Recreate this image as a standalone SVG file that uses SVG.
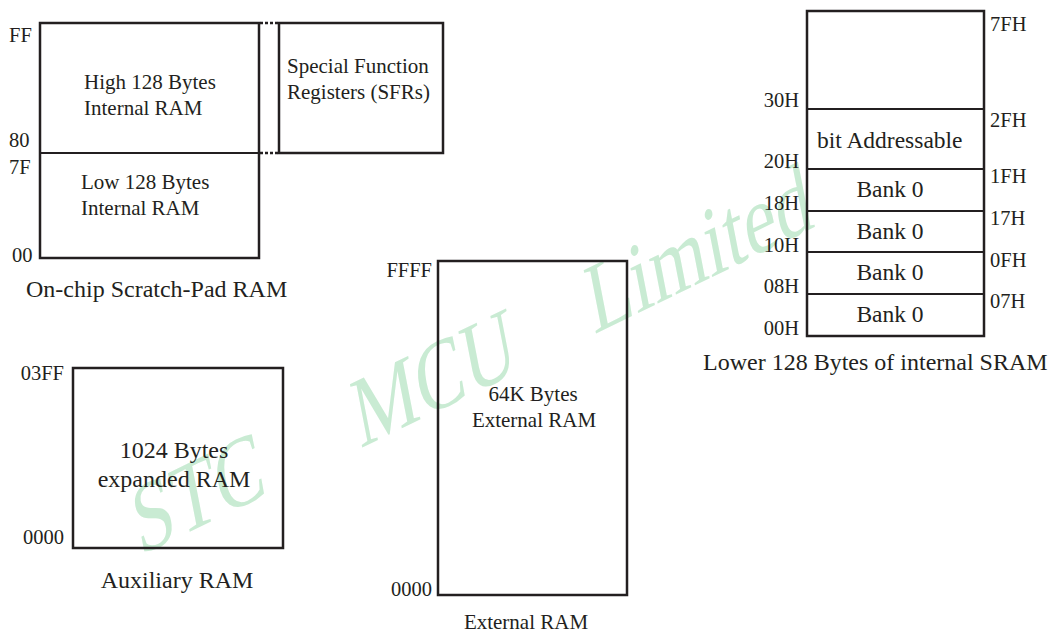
<svg xmlns="http://www.w3.org/2000/svg" width="1048" height="634" viewBox="0 0 1048 634">
<style>
text{font-family:"Liberation Serif","Times New Roman",serif;font-size:20.5px;fill:#231f20}
.t{font-size:21px}
.m{font-size:23.5px}
.l{font-size:24px}
.c{text-anchor:middle}
.e{text-anchor:end}
.box{fill:none;stroke:#231f20;stroke-width:2.5}
.div{stroke:#231f20;stroke-width:2.2}
.dot{stroke:#231f20;stroke-width:2.5;stroke-dasharray:3 2}
.wm{font-family:"Liberation Serif","Times New Roman",serif;font-size:95px;fill:#c9ebd3}
</style>
<rect width="1048" height="634" fill="#ffffff"/>
<g id="watermark" transform="translate(140,556) rotate(-26) skewX(-15) scale(0.82,1)">
<text class="wm" x="0" y="0">STC</text>
<text class="wm" x="299" y="0">MCU</text>
<text class="wm" x="616" y="0">Limited</text>
</g>
<g id="scratchpad">
<rect class="box" x="40" y="23" width="219" height="235"/>
<line class="div" x1="40" y1="153" x2="259" y2="153"/>
<text x="9" y="42">FF</text>
<text x="9" y="147">80</text>
<text x="9" y="174">7F</text>
<text x="12" y="262">00</text>
<text class="t" x="84" y="89">High 128 Bytes</text>
<text class="t" x="84" y="115">Internal RAM</text>
<text class="t" x="81" y="189">Low 128 Bytes</text>
<text class="t" x="81" y="215">Internal RAM</text>
<text class="l" x="26" y="297">On-chip Scratch-Pad RAM</text>
</g>
<g id="sfr">
<rect class="box" x="279" y="23" width="164" height="130"/>
<text class="t" x="287" y="73">Special Function</text>
<text class="t" x="287" y="99">Registers (SFRs)</text>
</g>
<g id="connectors">
<line class="dot" x1="260" y1="23" x2="279" y2="23"/>
<line class="dot" x1="260" y1="153" x2="279" y2="153"/>
</g>
<g id="lower128">
<rect class="box" x="807" y="11" width="177" height="325"/>
<line class="div" x1="807" y1="109" x2="984" y2="109"/>
<line class="div" x1="807" y1="169" x2="984" y2="169"/>
<line class="div" x1="807" y1="211" x2="984" y2="211"/>
<line class="div" x1="807" y1="252" x2="984" y2="252"/>
<line class="div" x1="807" y1="294" x2="984" y2="294"/>
<text class="e" x="799" y="107">30H</text>
<text class="e" x="799" y="168">20H</text>
<text class="e" x="799" y="210">18H</text>
<text class="e" x="799" y="252">10H</text>
<text class="e" x="799" y="293">08H</text>
<text class="e" x="799" y="335">00H</text>
<text x="990" y="31">7FH</text>
<text x="990" y="127">2FH</text>
<text x="990" y="183">1FH</text>
<text x="990" y="225">17H</text>
<text x="990" y="267">0FH</text>
<text x="990" y="308">07H</text>
<text class="m" x="817" y="148">bit Addressable</text>
<text class="m c" x="890" y="197">Bank 0</text>
<text class="m c" x="890" y="239">Bank 0</text>
<text class="m c" x="890" y="280">Bank 0</text>
<text class="m c" x="890" y="322">Bank 0</text>
<text class="l" x="703" y="370">Lower 128 Bytes of internal SRAM</text>
</g>
<g id="auxiliary">
<rect class="box" x="73" y="368" width="210" height="180"/>
<text class="e" x="64" y="380">03FF</text>
<text class="e" x="64" y="544">0000</text>
<text class="l c" x="174" y="458">1024 Bytes</text>
<text class="l c" x="174" y="487">expanded RAM</text>
<text class="l c" x="177" y="588">Auxiliary RAM</text>
</g>
<g id="external">
<rect class="box" x="438" y="261" width="189" height="334"/>
<text class="e" x="432" y="277">FFFF</text>
<text class="e" x="432" y="596">0000</text>
<text class="t c" x="533" y="401">64K Bytes</text>
<text class="t c" x="534" y="427">External RAM</text>
<text class="t c" x="526" y="629">External RAM</text>
</g>
</svg>
